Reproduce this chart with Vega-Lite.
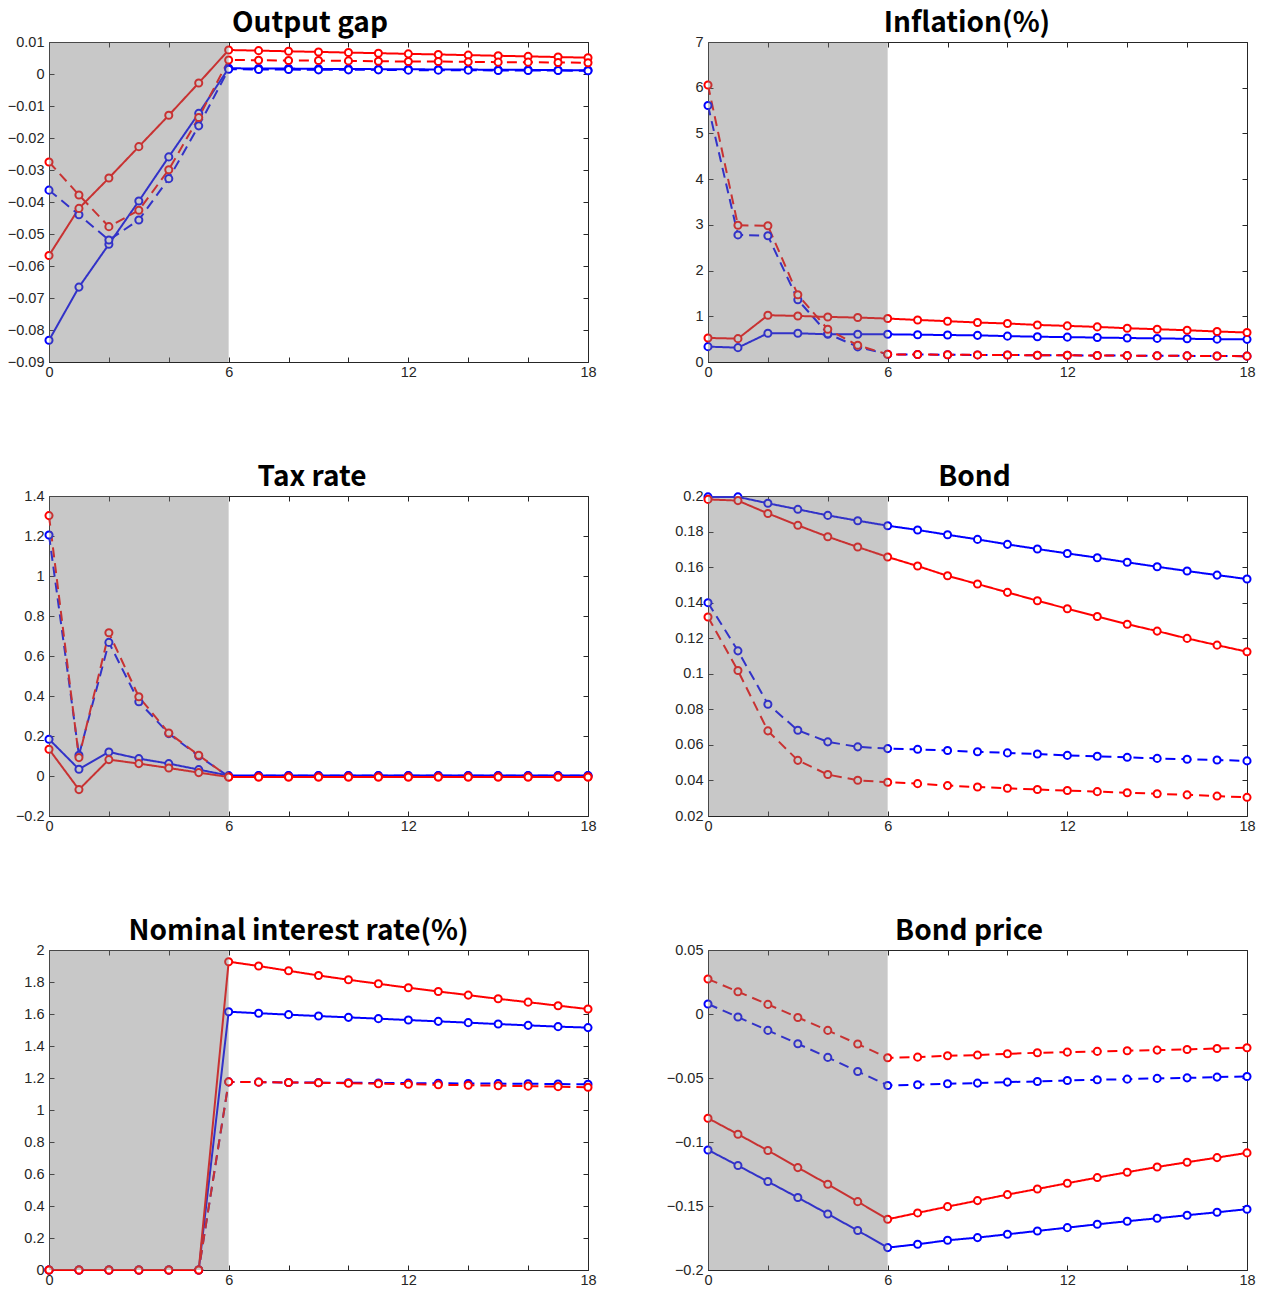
{
  "$schema": "https://vega.github.io/schema/vega-lite/v6.json",
  "padding": {"left": 7, "top": 10, "right": 8, "bottom": 5},
  "background": "white",
  "datasets": {
    "d": [
      {"p":"og","t":0,"bs":-0.0832,"bd":-0.0363,"rs":-0.0567,"rd":-0.0275},
      {"p":"og","t":1,"bs":-0.0666,"bd":-0.0440,"rs":-0.0420,"rd":-0.0378},
      {"p":"og","t":2,"bs":-0.0532,"bd":-0.0519,"rs":-0.0325,"rd":-0.0477},
      {"p":"og","t":3,"bs":-0.0397,"bd":-0.0456,"rs":-0.0227,"rd":-0.0426},
      {"p":"og","t":4,"bs":-0.0259,"bd":-0.0327,"rs":-0.0129,"rd":-0.0299},
      {"p":"og","t":5,"bs":-0.0123,"bd":-0.0162,"rs":-0.0028,"rd":-0.0136},
      {"p":"og","t":6,"bs":0.0018,"bd":0.0015,"rs":0.0075,"rd":0.0044},
      {"p":"og","t":7,"bs":0.0017,"bd":0.0014,"rs":0.0073,"rd":0.0043},
      {"p":"og","t":8,"bs":0.0017,"bd":0.0014,"rs":0.0071,"rd":0.0042},
      {"p":"og","t":9,"bs":0.0016,"bd":0.0013,"rs":0.0069,"rd":0.0042},
      {"p":"og","t":10,"bs":0.0016,"bd":0.0013,"rs":0.0067,"rd":0.0041},
      {"p":"og","t":11,"bs":0.0015,"bd":0.0013,"rs":0.0065,"rd":0.0040},
      {"p":"og","t":12,"bs":0.0015,"bd":0.0012,"rs":0.0063,"rd":0.0039},
      {"p":"og","t":13,"bs":0.0014,"bd":0.0012,"rs":0.0061,"rd":0.0039},
      {"p":"og","t":14,"bs":0.0014,"bd":0.0012,"rs":0.0059,"rd":0.0038},
      {"p":"og","t":15,"bs":0.0013,"bd":0.0011,"rs":0.0057,"rd":0.0037},
      {"p":"og","t":16,"bs":0.0013,"bd":0.0011,"rs":0.0055,"rd":0.0037},
      {"p":"og","t":17,"bs":0.0012,"bd":0.0011,"rs":0.0053,"rd":0.0036},
      {"p":"og","t":18,"bs":0.0012,"bd":0.0010,"rs":0.0051,"rd":0.0035},

      {"p":"inf","t":0,"bs":0.336,"bd":5.61,"rs":0.526,"rd":6.06},
      {"p":"inf","t":1,"bs":0.314,"bd":2.78,"rs":0.511,"rd":2.99},
      {"p":"inf","t":2,"bs":0.628,"bd":2.76,"rs":1.023,"rd":2.98},
      {"p":"inf","t":3,"bs":0.628,"bd":1.36,"rs":1.008,"rd":1.47},
      {"p":"inf","t":4,"bs":0.606,"bd":0.62,"rs":0.986,"rd":0.716},
      {"p":"inf","t":5,"bs":0.606,"bd":0.33,"rs":0.972,"rd":0.365},
      {"p":"inf","t":6,"bs":0.606,"bd":0.168,"rs":0.950,"rd":0.168},
      {"p":"inf","t":7,"bs":0.597,"bd":0.163,"rs":0.920,"rd":0.163},
      {"p":"inf","t":8,"bs":0.590,"bd":0.159,"rs":0.893,"rd":0.159},
      {"p":"inf","t":9,"bs":0.583,"bd":0.155,"rs":0.864,"rd":0.155},
      {"p":"inf","t":10,"bs":0.566,"bd":0.152,"rs":0.842,"rd":0.152},
      {"p":"inf","t":11,"bs":0.553,"bd":0.149,"rs":0.811,"rd":0.149},
      {"p":"inf","t":12,"bs":0.544,"bd":0.146,"rs":0.790,"rd":0.146},
      {"p":"inf","t":13,"bs":0.535,"bd":0.143,"rs":0.768,"rd":0.143},
      {"p":"inf","t":14,"bs":0.525,"bd":0.140,"rs":0.739,"rd":0.140},
      {"p":"inf","t":15,"bs":0.516,"bd":0.137,"rs":0.717,"rd":0.137},
      {"p":"inf","t":16,"bs":0.508,"bd":0.134,"rs":0.695,"rd":0.134},
      {"p":"inf","t":17,"bs":0.500,"bd":0.131,"rs":0.667,"rd":0.131},
      {"p":"inf","t":18,"bs":0.495,"bd":0.128,"rs":0.645,"rd":0.128},

      {"p":"tax","t":0,"bs":0.184,"bd":1.205,"rs":0.134,"rd":1.302},
      {"p":"tax","t":1,"bs":0.034,"bd":0.104,"rs":-0.068,"rd":0.092},
      {"p":"tax","t":2,"bs":0.120,"bd":0.668,"rs":0.082,"rd":0.716},
      {"p":"tax","t":3,"bs":0.087,"bd":0.371,"rs":0.062,"rd":0.396},
      {"p":"tax","t":4,"bs":0.062,"bd":0.212,"rs":0.040,"rd":0.215},
      {"p":"tax","t":5,"bs":0.032,"bd":0.100,"rs":0.017,"rd":0.104},
      {"p":"tax","t":6,"bs":0.002,"bd":-0.003,"rs":-0.005,"rd":-0.005},
      {"p":"tax","t":7,"bs":0.002,"bd":0.001,"rs":-0.005,"rd":-0.005},
      {"p":"tax","t":8,"bs":0.002,"bd":0.001,"rs":-0.005,"rd":-0.005},
      {"p":"tax","t":9,"bs":0.002,"bd":0.001,"rs":-0.005,"rd":-0.005},
      {"p":"tax","t":10,"bs":0.002,"bd":0.001,"rs":-0.005,"rd":-0.005},
      {"p":"tax","t":11,"bs":0.002,"bd":0.001,"rs":-0.005,"rd":-0.005},
      {"p":"tax","t":12,"bs":0.002,"bd":0.001,"rs":-0.005,"rd":-0.005},
      {"p":"tax","t":13,"bs":0.002,"bd":0.001,"rs":-0.005,"rd":-0.005},
      {"p":"tax","t":14,"bs":0.002,"bd":0.001,"rs":-0.005,"rd":-0.005},
      {"p":"tax","t":15,"bs":0.002,"bd":0.001,"rs":-0.005,"rd":-0.005},
      {"p":"tax","t":16,"bs":0.002,"bd":0.001,"rs":-0.005,"rd":-0.005},
      {"p":"tax","t":17,"bs":0.002,"bd":0.001,"rs":-0.005,"rd":-0.005},
      {"p":"tax","t":18,"bs":0.002,"bd":0.001,"rs":-0.005,"rd":-0.005},

      {"p":"bond","t":0,"bs":0.1995,"bd":0.1400,"rs":0.1981,"rd":0.1319},
      {"p":"bond","t":1,"bs":0.1995,"bd":0.1129,"rs":0.1974,"rd":0.1018},
      {"p":"bond","t":2,"bs":0.1959,"bd":0.0829,"rs":0.1902,"rd":0.0679},
      {"p":"bond","t":3,"bs":0.1925,"bd":0.0682,"rs":0.1835,"rd":0.0513},
      {"p":"bond","t":4,"bs":0.1891,"bd":0.0617,"rs":0.1771,"rd":0.0433},
      {"p":"bond","t":5,"bs":0.1861,"bd":0.0589,"rs":0.1713,"rd":0.0401},
      {"p":"bond","t":6,"bs":0.1833,"bd":0.0579,"rs":0.1657,"rd":0.0390},
      {"p":"bond","t":7,"bs":0.1809,"bd":0.0575,"rs":0.1606,"rd":0.0382},
      {"p":"bond","t":8,"bs":0.1782,"bd":0.0568,"rs":0.1551,"rd":0.0371},
      {"p":"bond","t":9,"bs":0.1756,"bd":0.0561,"rs":0.1505,"rd":0.0363},
      {"p":"bond","t":10,"bs":0.1728,"bd":0.0555,"rs":0.1458,"rd":0.0356},
      {"p":"bond","t":11,"bs":0.1702,"bd":0.0549,"rs":0.1411,"rd":0.0349},
      {"p":"bond","t":12,"bs":0.1677,"bd":0.0541,"rs":0.1366,"rd":0.0343},
      {"p":"bond","t":13,"bs":0.1653,"bd":0.0536,"rs":0.1322,"rd":0.0337},
      {"p":"bond","t":14,"bs":0.1627,"bd":0.0530,"rs":0.1279,"rd":0.0331},
      {"p":"bond","t":15,"bs":0.1602,"bd":0.0524,"rs":0.1240,"rd":0.0325},
      {"p":"bond","t":16,"bs":0.1578,"bd":0.0519,"rs":0.1199,"rd":0.0319},
      {"p":"bond","t":17,"bs":0.1555,"bd":0.0515,"rs":0.1161,"rd":0.0312},
      {"p":"bond","t":18,"bs":0.1533,"bd":0.0510,"rs":0.1124,"rd":0.0305},

      {"p":"nom","t":0,"bs":0,"bd":0,"rs":0,"rd":0},
      {"p":"nom","t":1,"bs":0,"bd":0,"rs":0,"rd":0},
      {"p":"nom","t":2,"bs":0,"bd":0,"rs":0,"rd":0},
      {"p":"nom","t":3,"bs":0,"bd":0,"rs":0,"rd":0},
      {"p":"nom","t":4,"bs":0,"bd":0,"rs":0,"rd":0},
      {"p":"nom","t":5,"bs":0,"bd":0,"rs":0,"rd":0},
      {"p":"nom","t":6,"bs":1.614,"bd":1.176,"rs":1.927,"rd":1.176},
      {"p":"nom","t":7,"bs":1.605,"bd":1.174,"rs":1.900,"rd":1.174},
      {"p":"nom","t":8,"bs":1.596,"bd":1.172,"rs":1.870,"rd":1.172},
      {"p":"nom","t":9,"bs":1.587,"bd":1.171,"rs":1.841,"rd":1.170},
      {"p":"nom","t":10,"bs":1.579,"bd":1.170,"rs":1.814,"rd":1.167},
      {"p":"nom","t":11,"bs":1.571,"bd":1.169,"rs":1.789,"rd":1.164},
      {"p":"nom","t":12,"bs":1.562,"bd":1.168,"rs":1.764,"rd":1.161},
      {"p":"nom","t":13,"bs":1.554,"bd":1.167,"rs":1.741,"rd":1.158},
      {"p":"nom","t":14,"bs":1.546,"bd":1.166,"rs":1.718,"rd":1.155},
      {"p":"nom","t":15,"bs":1.537,"bd":1.165,"rs":1.695,"rd":1.152},
      {"p":"nom","t":16,"bs":1.529,"bd":1.164,"rs":1.674,"rd":1.149},
      {"p":"nom","t":17,"bs":1.521,"bd":1.162,"rs":1.652,"rd":1.146},
      {"p":"nom","t":18,"bs":1.515,"bd":1.161,"rs":1.631,"rd":1.142},

      {"p":"bp","t":0,"bs":-0.1062,"bd":0.0078,"rs":-0.0814,"rd":0.0273},
      {"p":"bp","t":1,"bs":-0.1184,"bd":-0.0024,"rs":-0.0939,"rd":0.0174},
      {"p":"bp","t":2,"bs":-0.1309,"bd":-0.0128,"rs":-0.1067,"rd":0.0075},
      {"p":"bp","t":3,"bs":-0.1434,"bd":-0.0233,"rs":-0.1200,"rd":-0.0027},
      {"p":"bp","t":4,"bs":-0.1562,"bd":-0.0339,"rs":-0.1330,"rd":-0.0128},
      {"p":"bp","t":5,"bs":-0.1692,"bd":-0.0449,"rs":-0.1466,"rd":-0.0235},
      {"p":"bp","t":6,"bs":-0.1825,"bd":-0.0558,"rs":-0.1604,"rd":-0.0342},
      {"p":"bp","t":7,"bs":-0.1799,"bd":-0.0553,"rs":-0.1554,"rd":-0.0337},
      {"p":"bp","t":8,"bs":-0.1768,"bd":-0.0545,"rs":-0.1505,"rd":-0.0326},
      {"p":"bp","t":9,"bs":-0.1747,"bd":-0.0540,"rs":-0.1458,"rd":-0.0321},
      {"p":"bp","t":10,"bs":-0.1721,"bd":-0.0532,"rs":-0.1411,"rd":-0.0311},
      {"p":"bp","t":11,"bs":-0.1695,"bd":-0.0527,"rs":-0.1367,"rd":-0.0303},
      {"p":"bp","t":12,"bs":-0.1669,"bd":-0.0519,"rs":-0.1322,"rd":-0.0298},
      {"p":"bp","t":13,"bs":-0.1643,"bd":-0.0514,"rs":-0.1278,"rd":-0.0292},
      {"p":"bp","t":14,"bs":-0.1619,"bd":-0.0509,"rs":-0.1236,"rd":-0.0287},
      {"p":"bp","t":15,"bs":-0.1596,"bd":-0.0503,"rs":-0.1195,"rd":-0.0282},
      {"p":"bp","t":16,"bs":-0.1572,"bd":-0.0499,"rs":-0.1158,"rd":-0.0277},
      {"p":"bp","t":17,"bs":-0.1549,"bd":-0.0493,"rs":-0.1122,"rd":-0.0269},
      {"p":"bp","t":18,"bs":-0.1525,"bd":-0.0488,"rs":-0.1085,"rd":-0.0264}
    ],
    "sh": [
      {"p":"og","x0":0,"x1":6,"lo":-0.09,"hi":0.01},
      {"p":"inf","x0":0,"x1":6,"lo":0,"hi":7},
      {"p":"tax","x0":0,"x1":6,"lo":-0.2,"hi":1.4},
      {"p":"bond","x0":0,"x1":6,"lo":0.02,"hi":0.2},
      {"p":"nom","x0":0,"x1":6,"lo":0,"hi":2},
      {"p":"bp","x0":0,"x1":6,"lo":-0.2,"hi":0.05}
    ]
  },
  "columns": 2,
  "spacing": {"row": 85, "column": 69},
  "concat": [
    {
      "title": {"text": "Output gap", "dx": -8.5}, "width": 539, "height": 320,
      "resolve": {"axis": {"x": "independent", "y": "independent"}},
      "layer": [
        {"data": {"name": "d"}, "transform": [{"filter": "datum.p === 'og'"}, {"fold": ["bs","bd","rs","rd"], "as": ["s","v"]}],
         "mark": {"type": "line", "strokeWidth": 2},
         "encoding": {
           "x": {"field": "t", "type": "quantitative", "scale": {"domain": [0,18], "nice": false}, "axis": {"orient": "bottom", "values": [0,2,4,6,8,10,12,14,16,18], "labelPadding": 8, "labelExpr": "datum.value % 6 === 0 ? datum.label : ''"}},
           "y": {"field": "v", "type": "quantitative", "scale": {"domain": [-0.09,0.01], "nice": false, "zero": false}, "axis": {"orient": "left", "values": [-0.09,-0.08,-0.07,-0.06,-0.05,-0.04,-0.03,-0.02,-0.01,0,0.01], "format": ".2~f"}},
           "color": {"field": "s", "type": "nominal", "scale": {"domain": ["bs","bd","rs","rd"], "range": ["#0000ff","#0000ff","#ff0000","#ff0000"]}, "legend": null},
           "strokeDash": {"field": "s", "type": "nominal", "scale": {"domain": ["bs","bd","rs","rd"], "range": [[1,0],[10,6],[1,0],[10,6]]}, "legend": null}
         }},
        {"data": {"name": "d"}, "transform": [{"filter": "datum.p === 'og'"}, {"fold": ["bs","bd","rs","rd"], "as": ["s","v"]}],
         "mark": {"type": "point", "shape": "circle", "fill": "white", "fillOpacity": 1, "strokeWidth": 2, "size": 50, "opacity": 1},
         "encoding": {
           "x": {"field": "t", "type": "quantitative", "axis": {"orient": "top", "values": [0,2,4,6,8,10,12,14,16,18], "labels": false}},
           "y": {"field": "v", "type": "quantitative", "axis": {"orient": "right", "values": [-0.09,-0.08,-0.07,-0.06,-0.05,-0.04,-0.03,-0.02,-0.01,0,0.01], "labels": false}},
           "stroke": {"field": "s", "type": "nominal", "scale": {"domain": ["bs","bd","rs","rd"], "range": ["#0000ff","#0000ff","#ff0000","#ff0000"]}, "legend": null}
         }},
        {"data": {"name": "sh"}, "transform": [{"filter": "datum.p === 'og'"}],
         "mark": {"type": "rect", "color": "#7a7a7a", "opacity": 0.41},
         "encoding": {
           "x": {"field": "x0", "type": "quantitative", "axis": null}, "x2": {"field": "x1"},
           "y": {"field": "lo", "type": "quantitative", "axis": null}, "y2": {"field": "hi"}
         }}
      ]
    },
    {
      "title": {"text": "Inflation(%)", "dx": -10.5}, "width": 539, "height": 320,
      "resolve": {"axis": {"x": "independent", "y": "independent"}},
      "layer": [
        {"data": {"name": "d"}, "transform": [{"filter": "datum.p === 'inf'"}, {"fold": ["bs","bd","rs","rd"], "as": ["s","v"]}],
         "mark": {"type": "line", "strokeWidth": 2},
         "encoding": {
           "x": {"field": "t", "type": "quantitative", "scale": {"domain": [0,18], "nice": false}, "axis": {"orient": "bottom", "values": [0,2,4,6,8,10,12,14,16,18], "labelPadding": 8, "labelExpr": "datum.value % 6 === 0 ? datum.label : ''"}},
           "y": {"field": "v", "type": "quantitative", "scale": {"domain": [0,7], "nice": false, "zero": false}, "axis": {"orient": "left", "values": [0,1,2,3,4,5,6,7], "format": "d"}},
           "color": {"field": "s", "type": "nominal", "scale": {"domain": ["bs","bd","rs","rd"], "range": ["#0000ff","#0000ff","#ff0000","#ff0000"]}, "legend": null},
           "strokeDash": {"field": "s", "type": "nominal", "scale": {"domain": ["bs","bd","rs","rd"], "range": [[1,0],[10,6],[1,0],[10,6]]}, "legend": null}
         }},
        {"data": {"name": "d"}, "transform": [{"filter": "datum.p === 'inf'"}, {"fold": ["bs","bd","rs","rd"], "as": ["s","v"]}],
         "mark": {"type": "point", "shape": "circle", "fill": "white", "fillOpacity": 1, "strokeWidth": 2, "size": 50, "opacity": 1},
         "encoding": {
           "x": {"field": "t", "type": "quantitative", "axis": {"orient": "top", "values": [0,2,4,6,8,10,12,14,16,18], "labels": false}},
           "y": {"field": "v", "type": "quantitative", "axis": {"orient": "right", "values": [0,1,2,3,4,5,6,7], "labels": false}},
           "stroke": {"field": "s", "type": "nominal", "scale": {"domain": ["bs","bd","rs","rd"], "range": ["#0000ff","#0000ff","#ff0000","#ff0000"]}, "legend": null}
         }},
        {"data": {"name": "sh"}, "transform": [{"filter": "datum.p === 'inf'"}],
         "mark": {"type": "rect", "color": "#7a7a7a", "opacity": 0.41},
         "encoding": {
           "x": {"field": "x0", "type": "quantitative", "axis": null}, "x2": {"field": "x1"},
           "y": {"field": "lo", "type": "quantitative", "axis": null}, "y2": {"field": "hi"}
         }}
      ]
    },
    {
      "title": {"text": "Tax rate", "dx": -6.5}, "width": 539, "height": 320,
      "resolve": {"axis": {"x": "independent", "y": "independent"}},
      "layer": [
        {"data": {"name": "d"}, "transform": [{"filter": "datum.p === 'tax'"}, {"fold": ["bs","bd","rs","rd"], "as": ["s","v"]}],
         "mark": {"type": "line", "strokeWidth": 2},
         "encoding": {
           "x": {"field": "t", "type": "quantitative", "scale": {"domain": [0,18], "nice": false}, "axis": {"orient": "bottom", "values": [0,2,4,6,8,10,12,14,16,18], "labelPadding": 8, "labelExpr": "datum.value % 6 === 0 ? datum.label : ''"}},
           "y": {"field": "v", "type": "quantitative", "scale": {"domain": [-0.2,1.4], "nice": false, "zero": false}, "axis": {"orient": "left", "values": [-0.2,0,0.2,0.4,0.6,0.8,1,1.2,1.4], "format": ".1~f"}},
           "color": {"field": "s", "type": "nominal", "scale": {"domain": ["bs","bd","rs","rd"], "range": ["#0000ff","#0000ff","#ff0000","#ff0000"]}, "legend": null},
           "strokeDash": {"field": "s", "type": "nominal", "scale": {"domain": ["bs","bd","rs","rd"], "range": [[1,0],[10,6],[1,0],[10,6]]}, "legend": null}
         }},
        {"data": {"name": "d"}, "transform": [{"filter": "datum.p === 'tax'"}, {"fold": ["bs","bd","rs","rd"], "as": ["s","v"]}],
         "mark": {"type": "point", "shape": "circle", "fill": "white", "fillOpacity": 1, "strokeWidth": 2, "size": 50, "opacity": 1},
         "encoding": {
           "x": {"field": "t", "type": "quantitative", "axis": {"orient": "top", "values": [0,2,4,6,8,10,12,14,16,18], "labels": false}},
           "y": {"field": "v", "type": "quantitative", "axis": {"orient": "right", "values": [-0.2,0,0.2,0.4,0.6,0.8,1,1.2,1.4], "labels": false}},
           "stroke": {"field": "s", "type": "nominal", "scale": {"domain": ["bs","bd","rs","rd"], "range": ["#0000ff","#0000ff","#ff0000","#ff0000"]}, "legend": null}
         }},
        {"data": {"name": "sh"}, "transform": [{"filter": "datum.p === 'tax'"}],
         "mark": {"type": "rect", "color": "#7a7a7a", "opacity": 0.41},
         "encoding": {
           "x": {"field": "x0", "type": "quantitative", "axis": null}, "x2": {"field": "x1"},
           "y": {"field": "lo", "type": "quantitative", "axis": null}, "y2": {"field": "hi"}
         }}
      ]
    },
    {
      "title": {"text": "Bond", "dx": -3}, "width": 539, "height": 320,
      "resolve": {"axis": {"x": "independent", "y": "independent"}},
      "layer": [
        {"data": {"name": "d"}, "transform": [{"filter": "datum.p === 'bond'"}, {"fold": ["bs","bd","rs","rd"], "as": ["s","v"]}],
         "mark": {"type": "line", "strokeWidth": 2},
         "encoding": {
           "x": {"field": "t", "type": "quantitative", "scale": {"domain": [0,18], "nice": false}, "axis": {"orient": "bottom", "values": [0,2,4,6,8,10,12,14,16,18], "labelPadding": 8, "labelExpr": "datum.value % 6 === 0 ? datum.label : ''"}},
           "y": {"field": "v", "type": "quantitative", "scale": {"domain": [0.02,0.2], "nice": false, "zero": false}, "axis": {"orient": "left", "values": [0.02,0.04,0.06,0.08,0.1,0.12,0.14,0.16,0.18,0.2], "format": ".2~f"}},
           "color": {"field": "s", "type": "nominal", "scale": {"domain": ["bs","bd","rs","rd"], "range": ["#0000ff","#0000ff","#ff0000","#ff0000"]}, "legend": null},
           "strokeDash": {"field": "s", "type": "nominal", "scale": {"domain": ["bs","bd","rs","rd"], "range": [[1,0],[10,6],[1,0],[10,6]]}, "legend": null}
         }},
        {"data": {"name": "d"}, "transform": [{"filter": "datum.p === 'bond'"}, {"fold": ["bs","bd","rs","rd"], "as": ["s","v"]}],
         "mark": {"type": "point", "shape": "circle", "fill": "white", "fillOpacity": 1, "strokeWidth": 2, "size": 50, "opacity": 1},
         "encoding": {
           "x": {"field": "t", "type": "quantitative", "axis": {"orient": "top", "values": [0,2,4,6,8,10,12,14,16,18], "labels": false}},
           "y": {"field": "v", "type": "quantitative", "axis": {"orient": "right", "values": [0.02,0.04,0.06,0.08,0.1,0.12,0.14,0.16,0.18,0.2], "labels": false}},
           "stroke": {"field": "s", "type": "nominal", "scale": {"domain": ["bs","bd","rs","rd"], "range": ["#0000ff","#0000ff","#ff0000","#ff0000"]}, "legend": null}
         }},
        {"data": {"name": "sh"}, "transform": [{"filter": "datum.p === 'bond'"}],
         "mark": {"type": "rect", "color": "#7a7a7a", "opacity": 0.41},
         "encoding": {
           "x": {"field": "x0", "type": "quantitative", "axis": null}, "x2": {"field": "x1"},
           "y": {"field": "lo", "type": "quantitative", "axis": null}, "y2": {"field": "hi"}
         }}
      ]
    },
    {
      "title": {"text": "Nominal interest rate(%)", "dx": -20}, "width": 539, "height": 320,
      "resolve": {"axis": {"x": "independent", "y": "independent"}},
      "layer": [
        {"data": {"name": "d"}, "transform": [{"filter": "datum.p === 'nom'"}, {"fold": ["bs","bd","rs","rd"], "as": ["s","v"]}],
         "mark": {"type": "line", "strokeWidth": 2},
         "encoding": {
           "x": {"field": "t", "type": "quantitative", "scale": {"domain": [0,18], "nice": false}, "axis": {"orient": "bottom", "values": [0,2,4,6,8,10,12,14,16,18], "labelPadding": 8, "labelExpr": "datum.value % 6 === 0 ? datum.label : ''"}},
           "y": {"field": "v", "type": "quantitative", "scale": {"domain": [0,2], "nice": false, "zero": false}, "axis": {"orient": "left", "values": [0,0.2,0.4,0.6,0.8,1,1.2,1.4,1.6,1.8,2], "format": ".1~f"}},
           "color": {"field": "s", "type": "nominal", "scale": {"domain": ["bs","bd","rs","rd"], "range": ["#0000ff","#0000ff","#ff0000","#ff0000"]}, "legend": null},
           "strokeDash": {"field": "s", "type": "nominal", "scale": {"domain": ["bs","bd","rs","rd"], "range": [[1,0],[10,6],[1,0],[10,6]]}, "legend": null}
         }},
        {"data": {"name": "d"}, "transform": [{"filter": "datum.p === 'nom'"}, {"fold": ["bs","bd","rs","rd"], "as": ["s","v"]}],
         "mark": {"type": "point", "shape": "circle", "fill": "white", "fillOpacity": 1, "strokeWidth": 2, "size": 50, "opacity": 1},
         "encoding": {
           "x": {"field": "t", "type": "quantitative", "axis": {"orient": "top", "values": [0,2,4,6,8,10,12,14,16,18], "labels": false}},
           "y": {"field": "v", "type": "quantitative", "axis": {"orient": "right", "values": [0,0.2,0.4,0.6,0.8,1,1.2,1.4,1.6,1.8,2], "labels": false}},
           "stroke": {"field": "s", "type": "nominal", "scale": {"domain": ["bs","bd","rs","rd"], "range": ["#0000ff","#0000ff","#ff0000","#ff0000"]}, "legend": null}
         }},
        {"data": {"name": "sh"}, "transform": [{"filter": "datum.p === 'nom'"}],
         "mark": {"type": "rect", "color": "#7a7a7a", "opacity": 0.41},
         "encoding": {
           "x": {"field": "x0", "type": "quantitative", "axis": null}, "x2": {"field": "x1"},
           "y": {"field": "lo", "type": "quantitative", "axis": null}, "y2": {"field": "hi"}
         }}
      ]
    },
    {
      "title": {"text": "Bond price", "dx": -8.5}, "width": 539, "height": 320,
      "resolve": {"axis": {"x": "independent", "y": "independent"}},
      "layer": [
        {"data": {"name": "d"}, "transform": [{"filter": "datum.p === 'bp'"}, {"fold": ["bs","bd","rs","rd"], "as": ["s","v"]}],
         "mark": {"type": "line", "strokeWidth": 2},
         "encoding": {
           "x": {"field": "t", "type": "quantitative", "scale": {"domain": [0,18], "nice": false}, "axis": {"orient": "bottom", "values": [0,2,4,6,8,10,12,14,16,18], "labelPadding": 8, "labelExpr": "datum.value % 6 === 0 ? datum.label : ''"}},
           "y": {"field": "v", "type": "quantitative", "scale": {"domain": [-0.2,0.05], "nice": false, "zero": false}, "axis": {"orient": "left", "values": [-0.2,-0.15,-0.1,-0.05,0,0.05], "format": ".2~f"}},
           "color": {"field": "s", "type": "nominal", "scale": {"domain": ["bs","bd","rs","rd"], "range": ["#0000ff","#0000ff","#ff0000","#ff0000"]}, "legend": null},
           "strokeDash": {"field": "s", "type": "nominal", "scale": {"domain": ["bs","bd","rs","rd"], "range": [[1,0],[10,6],[1,0],[10,6]]}, "legend": null}
         }},
        {"data": {"name": "d"}, "transform": [{"filter": "datum.p === 'bp'"}, {"fold": ["bs","bd","rs","rd"], "as": ["s","v"]}],
         "mark": {"type": "point", "shape": "circle", "fill": "white", "fillOpacity": 1, "strokeWidth": 2, "size": 50, "opacity": 1},
         "encoding": {
           "x": {"field": "t", "type": "quantitative", "axis": {"orient": "top", "values": [0,2,4,6,8,10,12,14,16,18], "labels": false}},
           "y": {"field": "v", "type": "quantitative", "axis": {"orient": "right", "values": [-0.2,-0.15,-0.1,-0.05,0,0.05], "labels": false}},
           "stroke": {"field": "s", "type": "nominal", "scale": {"domain": ["bs","bd","rs","rd"], "range": ["#0000ff","#0000ff","#ff0000","#ff0000"]}, "legend": null}
         }},
        {"data": {"name": "sh"}, "transform": [{"filter": "datum.p === 'bp'"}],
         "mark": {"type": "rect", "color": "#7a7a7a", "opacity": 0.41},
         "encoding": {
           "x": {"field": "x0", "type": "quantitative", "axis": null}, "x2": {"field": "x1"},
           "y": {"field": "lo", "type": "quantitative", "axis": null}, "y2": {"field": "hi"}
         }}
      ]
    }
  ],
  "config": {
    "view": {"stroke": null},
    "axis": {
      "grid": false, "title": null, "zindex": 1,
      "domainColor": "#262626", "domainWidth": 1,
      "tickColor": "#262626", "tickWidth": 1, "tickSize": -5,
      "labelColor": "#262626", "labelFont": "Liberation Sans", "labelFontSize": 14.5,
      "labelPadding": 10, "labelFlush": false, "labelOverlap": false
    },
    "title": {"font": "Noto Sans CJK JP", "fontSize": 28, "fontWeight": "bold", "color": "#000000", "anchor": "middle", "offset": -4}
  }
}
